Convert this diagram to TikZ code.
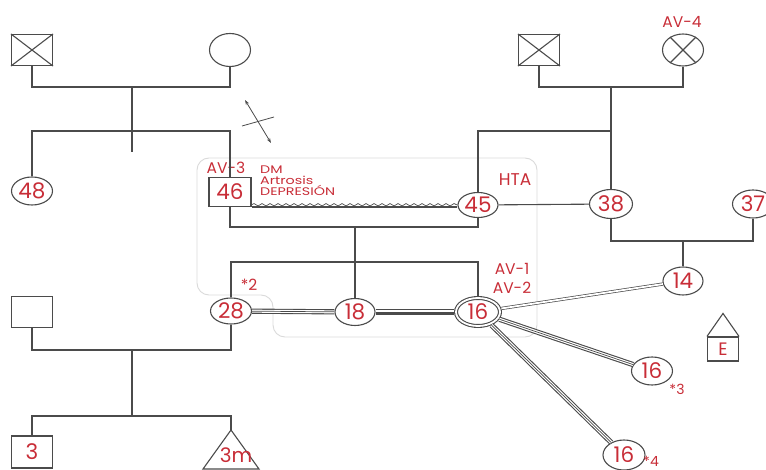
\documentclass[tikz,border=0pt]{standalone}
\usepackage{fontspec}
\setmainfont{Poppins}
\newfontfamily\widefont[FakeStretch=1.3]{Poppins}
\usepackage{tikz}
\usetikzlibrary{arrows.meta,shapes.geometric,decorations.pathmorphing}
\definecolor{linegray}{RGB}{75,75,75}
\definecolor{labelred}{RGB}{200,45,55}
\definecolor{boxgray}{RGB}{218,218,218}
\tikzset{
  kin/.style={draw=linegray,line width=1.1pt},
  male/.style={kin,rectangle,minimum width=41pt,minimum height=31pt,inner sep=0pt,
    text=labelred,font=\fontsize{21.5}{22}\selectfont},
  female/.style={kin,ellipse,minimum width=41pt,minimum height=28pt,inner sep=0pt,
    text=labelred,font=\fontsize{21.5}{22}\selectfont},
  note/.style={text=labelred,inner sep=0pt,font=\fontsize{15.5}{17}\selectfont},
  closeline/.style={draw=linegray,line width=0.7pt,double=white,double distance=1.8pt},
  fusedline/.style={draw=white,line width=3pt,preaction={draw=linegray,line width=5.2pt},
    postaction={draw=linegray,line width=0.7pt}},
  wavy/.style={draw=linegray,line width=0.7pt,decorate,
    decoration={snake,amplitude=1.2pt,segment length=8pt}}
}

\begin{document}
\begin{tikzpicture}[x=1pt,y=-1pt,>={Stealth[length=5pt,width=3.5pt]}]
  \useasboundingbox (0,0) rectangle (766,470);
  \draw[boxgray,line width=0.9pt,rounded corners=12pt]
    (197,295) -- (197,158) -- (537,158) -- (537,337) -- (273,337) -- (273,295) -- cycle;

  % grandparents
  \node[male] (gf1) at (32,50) {};
  \node[female,minimum height=33pt] (gm1) at (230,50) {};
  \node[male] (gf2) at (539,50) {};
  \node[female,minimum height=32pt] (gm2) at (683,50) {};
  \draw[kin] (gf1.north west) -- (gf1.south east) (gf1.north east) -- (gf1.south west);
  \draw[kin] (gf2.north west) -- (gf2.south east) (gf2.north east) -- (gf2.south west);
  \draw[kin] (gm2.45) -- (gm2.225) (gm2.135) -- (gm2.315);
  \node[note] (av4) at (682,22) {AV-4};

  % parents
  \node[female] (n48) at (32,191) {48};
  \node[male,minimum width=42pt,minimum height=29pt] (n46) at (230,192) {46};
  \node[female,minimum width=40pt,minimum height=25pt] (n45) at (478,205) {45};
  \node[female,minimum width=43pt,minimum height=29pt] (n38) at (611,204) {38};
  \node[female] (n37) at (753,204) {37};
  \node[note] (av3) at (226,168) {AV-3};
  \node[note,anchor=north west,align=left,font=\widefont\fontsize{11}{10.6}\selectfont]
    (dx46) at (260,166) {DM\\Artrosis\\DEPRESIÓN};
  \node[note,font=\fontsize{17}{18}\selectfont] (hta) at (515,180) {HTA};

  % children
  \node[male] (bm) at (32,312) {};
  \node[female,minimum height=26pt] (n28) at (231,311) {28};
  \node[female,minimum width=40pt,minimum height=27pt] (n18) at (355,312) {18};
  \node[female,double=white,double distance=1.8pt,outer sep=2pt,
    minimum width=44pt,minimum height=28pt] (n16) at (478,312) {16};
  \node[female,minimum width=40pt] (n14) at (683,281) {14};
  \node[female] (n16c) at (652,371) {16};
  \node[female,minimum width=42pt,minimum height=30pt] (n16d) at (624,455) {16};
  \node[note] (st2) at (249,285) {*2};
  \node[note] (av1) at (512,269) {AV-1};
  \node[note] (av2) at (512,288) {AV-2};
  \node[note,font=\fontsize{14}{15}\selectfont] (st3) at (677,389) {*3};
  \node[note,font=\fontsize{14}{15}\selectfont] (st4) at (651,461) {*4};
  \node[male,minimum width=31pt,minimum height=24pt,font=\fontsize{18}{19}\selectfont]
    (ee) at (723,349) {E};
  \draw[kin] (ee.north west) -- ([yshift=23pt]ee.north) -- (ee.north east);

  % grandchildren
  \node[male,minimum height=32pt] (k3) at (32,452) {3};
  \coordinate (tip) at (231,430);
  \draw[kin] (tip) -- ++(28,39) -- ++(-56,0) -- cycle;
  \node[note,font=\fontsize{20}{21}\selectfont] (k3m) at (236,455) {3m};

  % family lines
  \coordinate (m1) at (132,87);
  \coordinate (d1) at (132,152);
  \coordinate (s1) at (132,131);
  \draw[kin] (gf1.south) |- (m1) -| (gm1.south);
  \draw[kin] (m1) -- (d1);
  \draw[kin] (n48.north) |- (s1) -| (n46.north);
  \coordinate (m2) at (611,87);
  \coordinate (s2) at (611,131);
  \draw[kin] (gf2.south) |- (m2) -| (gm2.south);
  \draw[kin] (m2) -- (n38.north);
  \draw[kin] (n45.north) |- (s2);
  \draw[kin] (n45) -- (n38);
  \coordinate (m3) at (683,241);
  \draw[kin] (n38.south) |- (m3) -| (n37.south);
  \draw[kin] (m3) -- (n14.north);
  \draw[kin] (n46.south east) -- (n46.south east -| n45.west);
  \draw[wavy] ([yshift=2.3pt]n46.south east) -- ([yshift=2.3pt]n46.south east -| n45.west);
  \coordinate (m4) at (355,227);
  \coordinate (s4) at (355,262);
  \draw[kin] (n46.south) |- (m4) -| (n45.south);
  \draw[kin] (m4) -- (n18.north);
  \draw[kin] (n28.north) |- (s4) -| (n16.north);
  \coordinate (m5) at (132,350);
  \coordinate (s5) at (132,416);
  \draw[kin] (bm.south) |- (m5) -| (n28.south);
  \draw[kin] (m5) -- (s5);
  \draw[kin] (k3.north) |- (s5) -| (tip);

  % relations
  \draw[fusedline] (n28) -- (n18);
  \draw[fusedline] (n18) -- (n16);
  \draw[closeline] (n16) -- (n14);
  \draw[fusedline] (n16) -- (n16c);
  \draw[fusedline] (n16) -- (n16d);

  \coordinate (a1) at (245,100);
  \coordinate (a2) at (271,143);
  \coordinate (b1) at (242,126);
  \coordinate (b2) at (274,117);
  \draw[<->,linegray,line width=0.8pt] (a1) -- (a2);
  \draw[linegray,line width=0.8pt] (b1) -- (b2);
\end{tikzpicture}
\end{document}
